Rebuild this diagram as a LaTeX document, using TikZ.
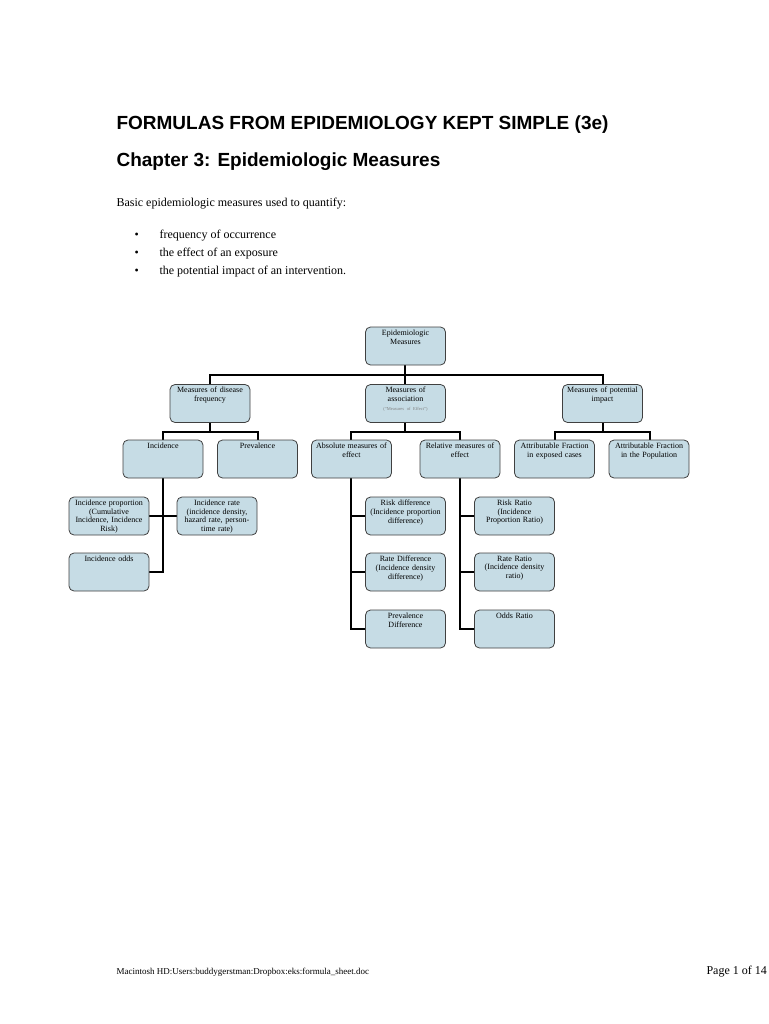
\documentclass[tikz,border=0pt]{standalone}
\usepackage{fontspec}
\setmainfont{Liberation Serif}
\newfontfamily\hsans{Liberation Sans}
\begin{document}
\begin{tikzpicture}[x=1pt,y=-1pt,
  bx/.style={draw=black!75,line width=0.8pt,fill=cyan!12!teal!25!white,rounded corners=5pt,minimum width=80pt,minimum height=38pt,inner sep=0pt},
  lbl/.style={align=center,font=\fontsize{8}{8.8}\selectfont,text width=80pt,inner sep=1pt,anchor=north},
  ln/.style={line width=2.6pt,line cap=rect}]
\useasboundingbox (0,0) rectangle (768,1024);
\node[anchor=base west,font=\hsans\bfseries\fontsize{19}{22}\selectfont] (t1) at (113,130) {FORMULAS FROM EPIDEMIOLOGY KEPT SIMPLE (3e)};
\node[anchor=base west,font=\hsans\bfseries\fontsize{19}{22}\selectfont] (t2) at (113,167) {Chapter 3: Epidemiologic Measures};
\node[anchor=base west,font=\fontsize{12}{14}\selectfont] (b0) at (113,207) {Basic epidemiologic measures used to quantify:};
\foreach \yy/\tt [count=\i] in {239/frequency of occurrence,256/the effect of an exposure,274/the potential impact of an intervention.}{
  \node[anchor=base west,font=\fontsize{12}{14}\selectfont] (bu\i) at (131,\yy) {\textbullet};
  \node[anchor=base west,font=\fontsize{12}{14}\selectfont] (bt\i) at (156,\yy) {\tt};
}
% connectors first
\draw[ln] (405,365) -- (405,375);
\draw[ln] (210,385) -- (210,375) -- (603,375) -- (603,385);
\draw[ln] (405,375) -- (405,385);
\draw[ln] (210,422) -- (210,432); \draw[ln] (163,440) -- (163,432) -- (258,432) -- (258,440);
\draw[ln] (405,422) -- (405,432); \draw[ln] (351,440) -- (351,432) -- (460,432) -- (460,440);
\draw[ln] (603,422) -- (603,432); \draw[ln] (555,440) -- (555,432) -- (650,432) -- (650,440);
\draw[ln] (163,478) -- (163,572) -- (149,572);
\draw[ln] (149,516) -- (177,516);
\draw[ln] (351,478) -- (351,629) -- (365,629);
\draw[ln] (351,516) -- (365,516); \draw[ln] (351,572) -- (365,572);
\draw[ln] (460,478) -- (460,629) -- (474,629);
\draw[ln] (460,516) -- (474,516); \draw[ln] (460,572) -- (474,572);
% boxes
\newcommand{\bxx}[4]{\node[bx] (#1) at (#2) {}; \node[lbl] (#1t) at ([yshift=-2pt]#1.north) {#3#4};}
\bxx{em}{405.5,346}{Epidemiologic\\Measures}{}
\bxx{mf}{210,403.5}{Measures of disease\\frequency}{}
\bxx{ma}{405.5,403.5}{Measures of\\association\\}{{\fontsize{4.5}{5}\selectfont\color{gray}(``Measures of Effect'')}}
\bxx{mp}{602.5,403.5}{Measures of potential\\impact}{}
\bxx{inc}{163,459}{Incidence}{}
\bxx{prev}{257.5,459}{Prevalence}{}
\bxx{abs}{351.5,459}{Absolute measures of\\effect}{}
\bxx{rel}{460,459}{Relative measures of\\effect}{}
\bxx{afe}{554.5,459}{Attributable Fraction\\in exposed cases}{}
\bxx{afp}{649,459}{Attributable Fraction\\in the Population}{}
\node[bx] (ip) at (109,516) {};
\node[bx] (ir) at (217,516) {};
\begin{scope}
\clip (69,497) rectangle (149,532);
\node[lbl] (ipt) at ([yshift=-2pt]ip.north) {Incidence proportion\\(Cumulative\\Incidence, Incidence\\Risk)};
\end{scope}
\begin{scope}
\clip (177,497) rectangle (257,532);
\node[lbl] (irt) at ([yshift=-2pt]ir.north) {Incidence rate\\(incidence density,\\hazard rate, person-\\time rate)};
\end{scope}
\bxx{io}{109,572}{Incidence odds}{}
\bxx{rd}{405.5,516}{Risk difference\\(Incidence proportion\\difference)}{}
\bxx{rtd}{405.5,572}{Rate Difference\\(Incidence density\\difference)}{}
\bxx{pd}{405.5,629}{Prevalence\\Difference}{}
\bxx{rr}{514.5,516}{Risk Ratio\\(Incidence\\Proportion Ratio)}{}
\bxx{rtr}{514.5,572}{Rate Ratio\\(Incidence density\\ratio)}{}
\bxx{or}{514.5,629}{Odds Ratio}{}
\node[anchor=base west,font=\fontsize{9}{10}\selectfont] (f1) at (113,974) {Macintosh HD:Users:buddygerstman:Dropbox:eks:formula\_sheet.doc};
\node[anchor=base west,font=\fontsize{12}{14}\selectfont] (f2) at (703,974) {Page 1 of 14};
\end{tikzpicture}
\end{document}
